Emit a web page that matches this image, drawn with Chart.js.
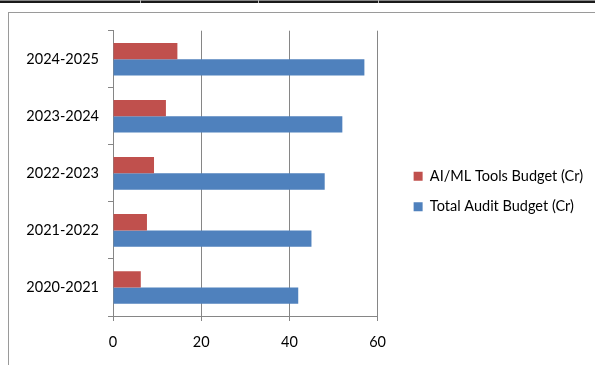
<!DOCTYPE html>
<html>
<head>
<meta charset="utf-8">
<script src="https://cdn.jsdelivr.net/npm/chart.js@4.4.1/dist/chart.umd.min.js"></script>
<style>
  html, body { margin: 0; padding: 0; background: #fff; overflow: hidden; }
  .topline { position: absolute; left: 0; top: 0; width: 595px; height: 3px; background: #1a1a1a; border-top: 1px solid #888; box-sizing: border-box; }
  .sep { position: absolute; top: 0; width: 1px; height: 3px; background: #bbb; }
  .frame { position: absolute; left: 8px; top: 12px; width: 620px; height: 380px; border: 1px solid #9a9a9a; }
  canvas { display: block; }
</style>
</head>
<body>
<div class="topline"></div>
<div class="sep" style="left:140px"></div>
<div class="sep" style="left:258px"></div>
<div class="sep" style="left:378px"></div>
<div class="frame">
  <canvas id="chart" width="584" height="340"></canvas>
</div>
<script>
const years = ['2020-2021', '2021-2022', '2022-2023', '2023-2024', '2024-2025']
const aiMlBudget = [6.3, 7.7, 9.3, 12, 14.6]
const totalBudget = [42, 45, 48, 52, 57]
const xTicks = [0, 20, 40, 60]

const font = {family: 'Lato, "Noto Sans", sans-serif', size: 14.5}
const axisColor = '#868686'

const ctx = document.getElementById('chart').getContext('2d')

new Chart(ctx, {
  type: 'bar',
  data: {
    labels: years,
    datasets: [
      {
        label: 'AI/ML Tools Budget (Cr)',
        data: aiMlBudget,
        backgroundColor: '#C0504D',
        borderWidth: 0,
      },
      {
        label: 'Total Audit Budget (Cr)',
        data: totalBudget,
        backgroundColor: '#4F81BD',
        borderWidth: 0,
      },
    ],
  },
  options: {
    indexAxis: 'y',
    responsive: false,
    animation: false,
    datasets: {
      bar: {
        categoryPercentage: 0.571,
        barPercentage: 1,
      },
    },
    layout: {
      padding: {top: 17, left: 0, right: 0, bottom: 0},
    },
    plugins: {
      tooltip: {enabled: false},
      legend: {
        position: 'right',
        maxWidth: 300,
        labels: {
          font: font,
          color: '#000',
          boxWidth: 9,
          boxHeight: 9,
          padding: 16,
        },
      },
    },
    scales: {
      x: {
        min: 0,
        max: 60,
        afterBuildTicks: (scale) => {
          scale.ticks = xTicks.map(v => ({value: v}))
        },
        afterFit: (scale) => { scale.height = 37 },
        grid: {
          color: axisColor,
          tickLength: 5,
          drawTicks: true,
        },
        border: {color: axisColor},
        ticks: {
          font: font,
          color: '#000',
          padding: 13,
        },
      },
      y: {
        reverse: true,
        afterFit: (scale) => { scale.width = 104 },
        grid: {
          drawOnChartArea: false,
          color: axisColor,
          tickLength: 5,
        },
        border: {color: axisColor},
        ticks: {
          font: font,
          color: '#000',
          padding: 9,
        },
      },
      // empty gap between plot and legend
      gap: {
        type: 'linear',
        position: 'right',
        afterFit: (scale) => { scale.width = 20 },
        grid: {display: false},
        border: {display: false},
        ticks: {display: false},
      },
    },
  },
})
</script>
</body>
</html>
